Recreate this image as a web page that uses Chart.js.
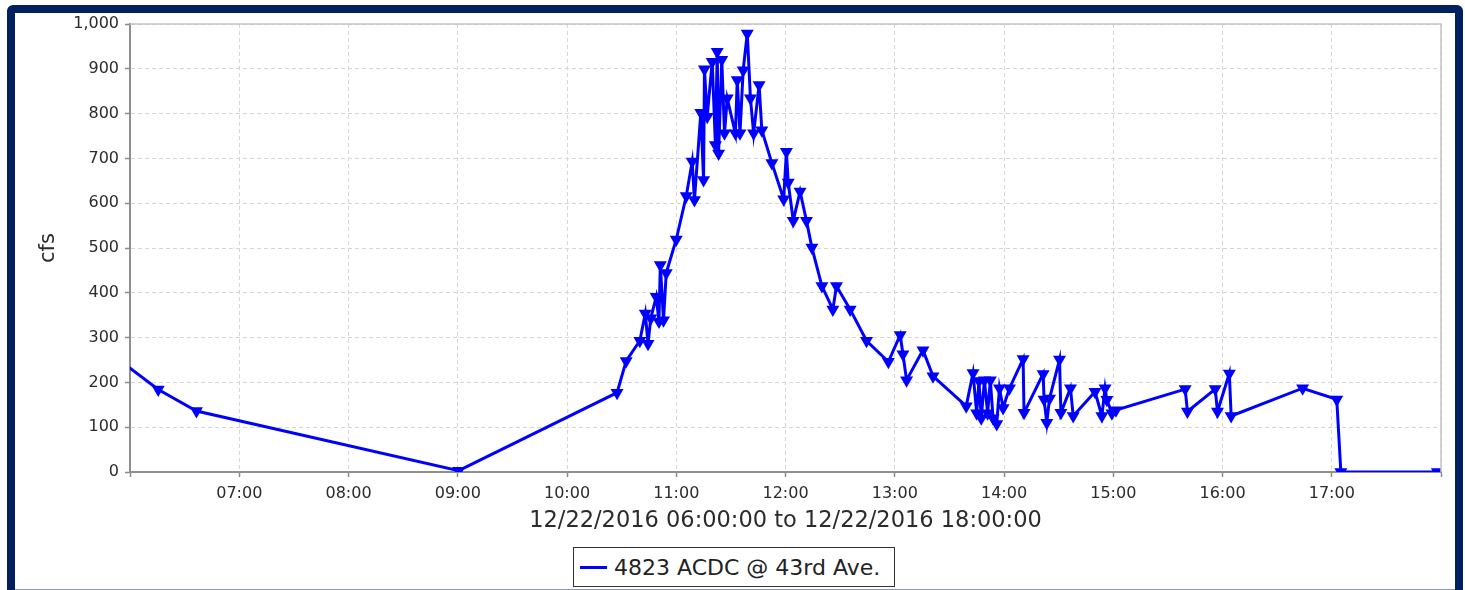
<!DOCTYPE html>
<html lang="en">
<head>
<meta charset="UTF-8">
<title>4823 ACDC @ 43rd Ave.</title>
<script src="https://cdn.jsdelivr.net/npm/chart.js"></script>
<style>
    body {
        margin: 0;
        background: white;
        overflow: hidden;
        font-family: 'DejaVu Sans', sans-serif;
    }
    .frame {
        position: absolute;
        left: 7px;
        top: 5px;
        width: 1440px;
        height: 640px;
        border: 8px solid #002060;
        border-radius: 6px;
    }
    .bottom-line {
        position: absolute;
        left: 15px;
        top: 589px;
        width: 1440px;
        height: 1px;
        background: #8c9ab5;
    }
    .chart-box {
        position: absolute;
        left: 0;
        top: 0;
        width: 1465px;
        height: 590px;
    }
    .legend {
        position: absolute;
        left: 573px;
        top: 547px;
        width: 322px;
        height: 40px;
        box-sizing: border-box;
        border: 1.5px solid #333;
        background: white;
        display: flex;
        align-items: center;
        font-size: 22px;
        color: #222;
    }
    .legend .swatch {
        display: inline-block;
        width: 27px;
        height: 3px;
        margin: 0 7px 0 6px;
    }
</style>
</head>
<body>

<div class="frame"></div>
<div class="bottom-line"></div>
<div class="chart-box"><canvas id="flowChart"></canvas></div>
<div class="legend"><span class="swatch" id="swatch"></span><span id="legendText"></span></div>

<script>
    const seriesName = '4823 ACDC @ 43rd Ave.';
    const axisTitle = '12/22/2016 06:00:00 to 12/22/2016 18:00:00';

    // reading times (12/22/2016) and flow in cfs
    const readTimes = [
        '05:55:00', '06:15:30', '06:36:30', '09:00:30', '10:27:30', '10:32:30', '10:40:00', '10:43:00',
        '10:44:30', '10:46:00', '10:49:00', '10:50:30', '10:51:15', '10:53:00', '10:54:30', '11:00:00',
        '11:05:30', '11:08:45', '11:10:00', '11:13:30', '11:15:00', '11:15:30', '11:17:00', '11:19:45',
        '11:21:30', '11:22:30', '11:23:15', '11:25:00', '11:26:30', '11:28:00', '11:32:30', '11:33:30',
        '11:35:00', '11:36:45', '11:39:00', '11:40:45', '11:42:30', '11:45:30', '11:47:00', '11:52:30',
        '11:59:00', '12:00:30', '12:01:30', '12:04:15', '12:08:00', '12:11:30', '12:14:30', '12:20:00',
        '12:26:00', '12:28:00', '12:35:30', '12:44:30', '12:56:30', '13:03:00', '13:04:30', '13:06:30',
        '13:15:30', '13:21:00', '13:39:15', '13:43:00', '13:45:00', '13:46:15', '13:47:30', '13:49:15',
        '13:51:00', '13:52:30', '13:54:00', '13:56:00', '13:57:30', '13:59:30', '14:03:00', '14:10:30',
        '14:11:00', '14:21:30', '14:22:00', '14:23:30', '14:25:00', '14:30:30', '14:31:15', '14:36:30',
        '14:38:00', '14:50:00', '14:53:45', '14:55:30', '14:56:30', '14:59:15', '15:01:30', '15:39:30',
        '15:40:45', '15:56:00', '15:57:15', '16:03:45', '16:04:45', '16:44:00', '17:02:45', '17:05:00',
        '17:58:00'
    ];
    const flowCfs = [
        247, 184, 136, 3, 177, 248, 293, 354,
        286, 343, 391, 336, 462, 339, 444, 519,
        616, 693, 607, 802, 652, 899, 793, 916,
        730, 938, 711, 920, 756, 834, 756, 875,
        756, 897, 979, 834, 756, 864, 763, 690,
        609, 715, 646, 561, 626, 561, 501, 415,
        363, 415, 363, 293, 246, 306, 263, 205,
        272, 214, 147, 221, 131, 203, 120, 205,
        131, 205, 120, 107, 187, 143, 187, 252,
        132, 219, 162, 110, 164, 251, 132, 187,
        125, 179, 125, 187, 161, 131, 138, 185,
        135, 185, 135, 220, 125, 187, 162, 0,
        0
    ];

    const hourLabels = ['07:00', '08:00', '09:00', '10:00', '11:00', '12:00',
                        '13:00', '14:00', '15:00', '16:00', '17:00'];

    function toHours(t) {
        const p = t.split(':').map(Number);
        return p[0] + p[1] / 60 + p[2] / 3600;
    }

    const points = readTimes.map((t, i) => ({ x: toHours(t), y: flowCfs[i] }));
    const lineBlue = '#0000ff';

    document.getElementById('swatch').style.background = lineBlue;
    document.getElementById('legendText').textContent = seriesName;

    // light outline on top and right of the plot
    const plotOutline = {
        id: 'plotOutline',
        afterDatasetsDraw(chart) {
            const a = chart.chartArea;
            const c = chart.ctx;
            c.save();
            c.strokeStyle = '#c4c4c4';
            c.lineWidth = 1.5;
            c.beginPath();
            c.moveTo(a.left, a.top);
            c.lineTo(a.right, a.top);
            c.lineTo(a.right, a.bottom);
            c.stroke();
            c.restore();
        }
    };

    new Chart(document.getElementById('flowChart'), {
        type: 'line',
        data: {
            datasets: [{
                label: seriesName,
                data: points,
                borderColor: lineBlue,
                backgroundColor: lineBlue,
                borderWidth: 3,
                tension: 0,
                pointStyle: 'triangle',
                rotation: 180,
                pointRadius: 5.5,
                pointBorderWidth: 2,
                pointBackgroundColor: lineBlue,
                pointBorderColor: lineBlue
            }]
        },
        options: {
            responsive: true,
            maintainAspectRatio: false,
            animation: false,
            layout: { padding: { left: 0, top: 24, right: 24, bottom: 0 } },
            plugins: {
                legend: { display: false },
                tooltip: { enabled: false }
            },
            scales: {
                x: {
                    type: 'linear',
                    min: 6,
                    max: 18,
                    afterFit(scale) {
                        scale.height = 118;
                        scale.paddingLeft = 0;
                        scale.paddingRight = 0;
                    },
                    ticks: {
                        stepSize: 1,
                        autoSkip: false,
                        maxRotation: 0,
                        padding: 7,
                        color: '#2b2b2b',
                        font: { family: 'DejaVu Sans', size: 16 },
                        callback: (v) => {
                            const lbl = hourLabels.find(h => parseInt(h, 10) === v);
                            return lbl || '';
                        }
                    },
                    grid: {
                        color: '#d6d6d6',
                        lineWidth: 1,
                        tickLength: 5,
                        tickColor: '#8a8a8a',
                        tickWidth: 1.5,
                        tickBorderDash: []
                    },
                    border: { color: '#8f8f8f', width: 2, dash: [4, 3] },
                    title: {
                        display: true,
                        text: axisTitle,
                        color: '#2b2b2b',
                        font: { family: 'DejaVu Sans', size: 22.5 },
                        padding: { top: 0, bottom: 55 }
                    }
                },
                y: {
                    min: 0,
                    max: 1000,
                    afterFit(scale) {
                        scale.width = 130;
                        scale.paddingTop = 0;
                        scale.paddingBottom = 0;
                    },
                    ticks: {
                        stepSize: 100,
                        padding: 6,
                        color: '#2b2b2b',
                        font: { family: 'DejaVu Sans', size: 16 }
                    },
                    grid: {
                        color: '#d6d6d6',
                        lineWidth: 1,
                        tickLength: 5,
                        tickColor: '#8a8a8a',
                        tickWidth: 1.5,
                        tickBorderDash: []
                    },
                    border: { color: '#8f8f8f', width: 2, dash: [4, 3] },
                    title: {
                        display: true,
                        text: 'cfs',
                        color: '#2b2b2b',
                        font: { family: 'DejaVu Sans', size: 21 },
                        padding: { top: 36, bottom: 0 }
                    }
                }
            }
        },
        plugins: [plotOutline]
    });
</script>

</body>
</html>
